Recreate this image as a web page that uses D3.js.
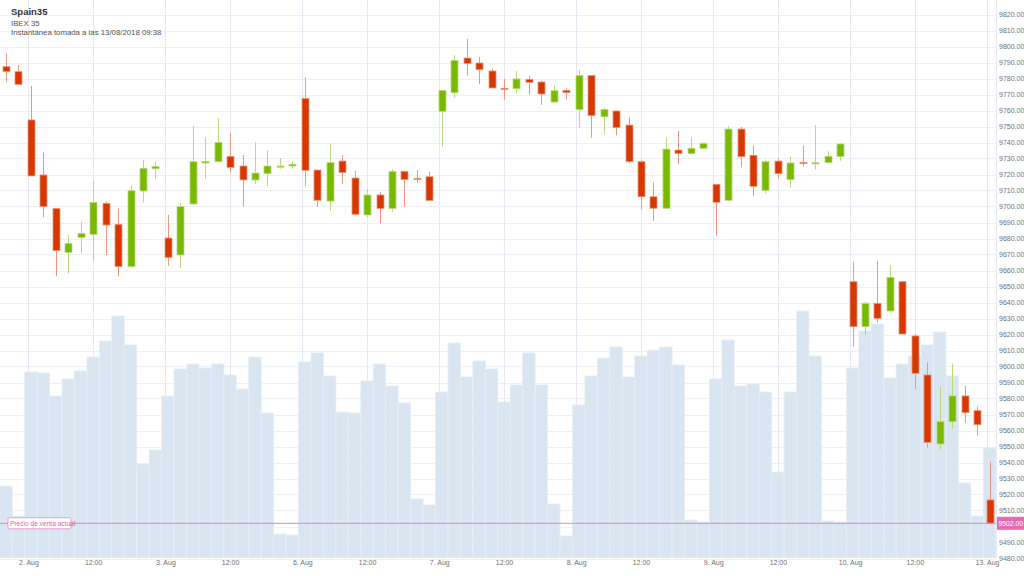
<!DOCTYPE html>
<html>
<head>
<meta charset="utf-8">
<script src="https://cdn.jsdelivr.net/npm/d3@7"></script>
<style>
  html, body { margin: 0; padding: 0; background: #ffffff; }
  svg { display: block; font-family: "Liberation Sans", Arial, sans-serif; }
</style>
</head>
<body>
<svg id="chart" width="1024" height="576"></svg>
<script>
// ---------- DATA ----------
const open  = [9787.4,9784.3,9754.1,9719.7,9698.8,9671.3,9680.7,9682.6,9702.0,9688.9,
               9662.4,9709.7,9723.6,9680.3,9669.7,9701.6,9727.2,9728.0,9731.3,9725.3,
               9716.6,9720.5,9724.7,9725.3,9767.6,9722.8,9703.4,9728.4,9717.8,9694.7,
               9707.2,9698.8,9722.0,9717.6,9718.6,9759.5,9771.1,9792.8,9789.7,9784.7,
               9773.9,9773.6,9779.5,9777.8,9765.3,9772.6,9760.5,9781.9,9756.1,9759.7,
               9750.9,9728.0,9706.1,9698.9,9735.3,9733.2,9736.4,9713.9,9703.9,9748.4,
               9732.0,9710.1,9728.4,9716.8,9727.6,9726.8,9727.4,9731.2,9653.0,9624.9,
               9639.5,9634.7,9653.0,9619.1,9594.7,9551.6,9565.5,9581.6,9572.4,9516.6];
const high  = [9795.7,9788.4,9775.3,9733.8,9698.8,9682.2,9690.5,9715.9,9703.0,9698.8,
               9713.2,9729.1,9728.2,9694.7,9702.0,9750.3,9743.2,9755.1,9746.0,9732.2,
               9740.1,9735.1,9730.3,9728.2,9780.7,9722.8,9739.5,9732.2,9722.2,9710.9,
               9709.1,9723.2,9722.0,9722.8,9721.8,9772.6,9794.7,9804.7,9793.4,9786.3,
               9779.7,9784.7,9781.8,9778.6,9775.9,9773.8,9785.3,9781.9,9761.6,9759.7,
               9755.7,9729.0,9715.1,9743.2,9747.2,9743.2,9739.5,9713.9,9750.5,9749.7,
               9738.2,9729.5,9729.9,9731.4,9738.2,9750.9,9734.5,9739.1,9665.5,9640.5,
               9665.9,9663.4,9653.0,9620.3,9602.6,9587.4,9601.8,9588.0,9574.9,9540.5];
const low   = [9778.0,9776.0,9719.0,9693.2,9656.6,9658.2,9670.7,9666.1,9669.7,9656.1,
               9662.0,9702.4,9717.4,9663.0,9661.8,9701.0,9717.4,9728.0,9721.1,9699.9,
               9714.1,9712.8,9723.6,9723.8,9713.0,9699.9,9697.2,9714.1,9694.5,9693.2,
               9689.5,9696.8,9699.9,9714.9,9703.8,9737.4,9768.0,9781.8,9776.6,9774.1,
               9766.8,9770.9,9769.9,9763.6,9765.3,9766.8,9749.3,9743.0,9745.1,9744.5,
               9727.0,9698.2,9690.9,9698.9,9726.6,9732.2,9736.4,9681.8,9703.9,9724.5,
               9706.6,9708.2,9717.4,9711.8,9725.1,9723.2,9727.4,9728.6,9612.4,9619.7,
               9627.4,9633.6,9620.3,9585.9,9549.3,9548.2,9561.3,9564.9,9556.8,9501.6];
const close = [9784.3,9776.3,9719.1,9699.9,9672.4,9676.8,9683.2,9702.6,9688.4,9662.4,
               9709.9,9723.9,9725.1,9668.2,9699.9,9728.0,9728.1,9740.1,9724.3,9716.6,
               9720.9,9725.3,9725.3,9726.4,9722.6,9703.9,9727.4,9721.3,9695.1,9707.2,
               9698.8,9721.8,9716.8,9717.0,9703.8,9772.6,9791.3,9789.3,9785.5,9774.1,
               9773.4,9779.7,9777.6,9770.3,9772.4,9771.1,9781.8,9756.8,9760.7,9749.3,
               9728.0,9706.1,9698.9,9735.9,9733.2,9736.4,9739.5,9702.6,9748.4,9731.1,
               9712.6,9728.0,9720.5,9727.2,9726.8,9727.4,9731.4,9739.1,9624.9,9639.5,
               9630.1,9655.7,9620.3,9595.7,9552.6,9565.5,9581.6,9571.1,9563.6,9502.0];
const volume = [72,42,186,185,162,179,187,201,217,242,
                213,94,108,162,189,194,190,194,183,169,
                201,145,24,23,196,205,182,146,145,177,
                194,172,155,59,53,166,215,181,197,189,
                156,173,205,173,54,22,153,182,200,211,
                181,202,208,211,193,38,36,179,218,172,
                174,166,86,166,247,202,37,36,190,227,
                234,180,194,202,213,226,182,75,42,110];

// x-axis ticks expressed in candle-index units (ordinal axis)
const xTickPos    = [1.8, 7, 12.8, 18, 23.8, 29, 34.8, 40, 45.8, 51, 56.8, 62, 67.8, 73, 78.8];
const xTickLabels = ["2. Aug","12:00","3. Aug","12:00","6. Aug","12:00","7. Aug","12:00",
                     "8. Aug","12:00","9. Aug","12:00","10. Aug","12:00","13. Aug"];
const priceTicks = d3.range(9480, 9821, 10);
const currentPrice = 9502.0;
const titleMain = "Spain35";
const titleSub  = "IBEX 35";
const titleSnap = "Instantánea tomada a las 13/08/2018 09:38";
const currentLabel = "Precio de venta actual";

// ---------- LAYOUT ----------
const W = 1024, H = 576;
const plotRight = 996, plotBottom = 558;
const step = 12.45;

const svg = d3.select("#chart");
svg.append("rect").attr("width", W).attr("height", H).attr("fill", "#ffffff");

const x = d3.scaleLinear().domain([0, 79]).range([6, 6 + 79 * step]);
const y = d3.scaleLinear().domain([9480, 9820]).range([558.5, 14.5]);
const yVol = d3.scaleLinear().domain([0, 250]).range([plotBottom, plotBottom - 250]);

svg.append("clipPath").attr("id", "plotclip")
  .append("rect").attr("x", 0).attr("y", 0).attr("width", plotRight).attr("height", plotBottom);

// horizontal grid
svg.append("g").selectAll("line").data(priceTicks).join("line")
  .attr("x1", 0).attr("x2", plotRight)
  .attr("y1", d => Math.round(y(d)) + 0.5).attr("y2", d => Math.round(y(d)) + 0.5)
  .attr("stroke", "#efeff8").attr("stroke-width", 1);

// vertical grid
svg.append("g").selectAll("line").data(xTickPos).join("line")
  .attr("x1", d => Math.round(x(d)) + 0.5).attr("x2", d => Math.round(x(d)) + 0.5)
  .attr("y1", 0).attr("y2", plotBottom)
  .attr("stroke", "#e8e8f4").attr("stroke-width", 1);
svg.append("line").attr("x1", plotRight + 0.5).attr("x2", plotRight + 0.5)
  .attr("y1", 0).attr("y2", plotBottom).attr("stroke", "#e8e8f4");

// volume
const plot = svg.append("g").attr("clip-path", "url(#plotclip)");
plot.append("g").selectAll("rect").data(volume).join("rect")
  .attr("x", (d, i) => x(i) - step / 2)
  .attr("width", step)
  .attr("y", d => yVol(d))
  .attr("height", d => plotBottom - yVol(d))
  .attr("fill", "#d9e6f1")
  .attr("stroke", "#e6eef6").attr("stroke-width", 0.8);

// candles
const candles = open.map((o, i) => ({i, o, h: high[i], l: low[i], c: close[i]}));
const up = d => d.c >= d.o;
const bodyCol = d => up(d) ? "#79b900" : "#d83800";
const wickCol = d => up(d) ? "#b8da7c" : "#ec977f";
const cg = plot.append("g");
cg.selectAll("line").data(candles).join("line")
  .attr("x1", d => Math.round(x(d.i)) + 0.5).attr("x2", d => Math.round(x(d.i)) + 0.5)
  .attr("y1", d => y(d.h)).attr("y2", d => y(d.l))
  .attr("stroke", wickCol).attr("stroke-width", 1);
cg.selectAll("rect").data(candles).join("rect")
  .attr("x", d => Math.round(x(d.i)) - 3)
  .attr("width", 7)
  .attr("y", d => y(Math.max(d.o, d.c)))
  .attr("height", d => Math.max(1.2, Math.abs(y(d.o) - y(d.c))))
  .attr("fill", bodyCol)
  .attr("stroke", wickCol).attr("stroke-width", 0.8);

// current price line
const yc = y(currentPrice);
svg.append("line").attr("x1", 0).attr("x2", plotRight)
  .attr("y1", yc).attr("y2", yc).attr("stroke", "#e384c0").attr("stroke-width", 1);
svg.append("rect").attr("x", 8).attr("y", yc - 5.5).attr("width", 63).attr("height", 11)
  .attr("rx", 1.5).attr("fill", "#ffffff").attr("stroke", "#e384c0").attr("stroke-width", 0.8);
svg.append("text").attr("x", 10).attr("y", yc + 2.5).text(currentLabel)
  .attr("font-size", 6.6).attr("fill", "#e060aa");

// right axis (labels hidden behind the current-price box are omitted)
const axisTicks = priceTicks.filter(v => Math.abs(v - currentPrice) > 5);
const yAxis = d3.axisRight(y).tickValues(axisTicks).tickFormat(d3.format(".2f")).tickSize(0).tickPadding(0);
const ya = svg.append("g").attr("transform", `translate(999,0)`).call(yAxis);
ya.select(".domain").remove();
ya.selectAll("text").attr("font-size", 7).attr("fill", "#707070")
  .attr("font-family", "'Liberation Sans', Arial, sans-serif");

// current price box on axis
svg.append("rect").attr("x", 997).attr("y", yc - 6.5).attr("width", 27).attr("height", 13)
  .attr("fill", "#e26bb1");
svg.append("text").attr("x", 998.5).attr("y", yc + 2.5).text(d3.format(".2f")(currentPrice))
  .attr("font-size", 6.8).attr("fill", "#ffffff");

// bottom axis
const xAxis = d3.axisBottom(x).tickValues(xTickPos)
  .tickFormat((d, i) => xTickLabels[i]).tickSize(0).tickPadding(0);
const xa = svg.append("g").attr("transform", `translate(0,${plotBottom + 2})`).call(xAxis);
xa.select(".domain").remove();
xa.selectAll("text").attr("font-size", 7).attr("fill", "#707070")
  .attr("font-family", "'Liberation Sans', Arial, sans-serif");

// titles
svg.append("text").attr("x", 11).attr("y", 15).text(titleMain)
  .attr("font-size", 9.5).attr("font-weight", "bold").attr("fill", "#333333");
svg.append("text").attr("x", 11).attr("y", 26).text(titleSub)
  .attr("font-size", 7.8).attr("fill", "#555555");
svg.append("text").attr("x", 11).attr("y", 34.8).text(titleSnap)
  .attr("font-size", 7.8).attr("fill", "#555555");
</script>
</body>
</html>
